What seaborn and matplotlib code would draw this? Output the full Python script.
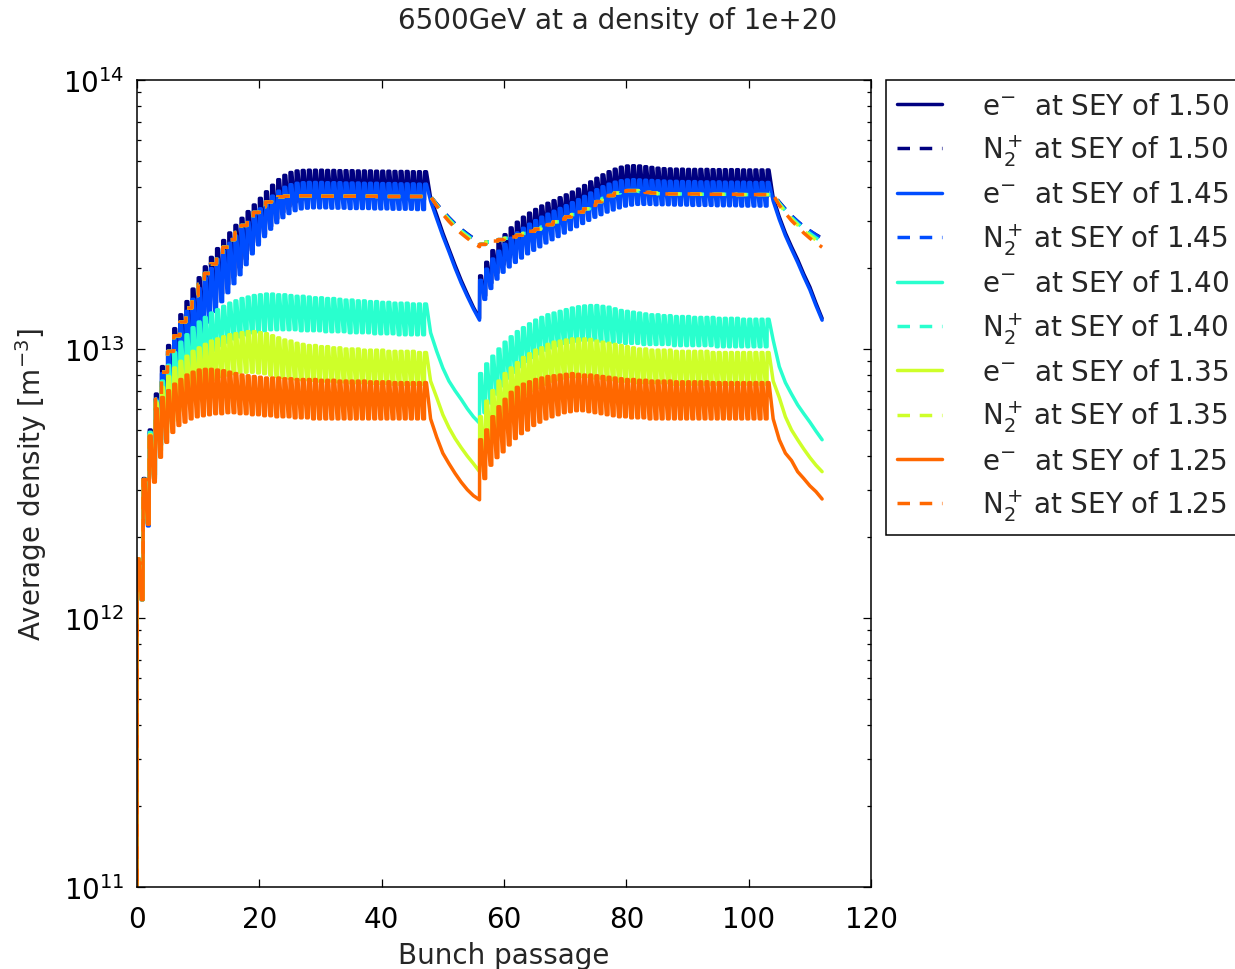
import numpy as np
import matplotlib
matplotlib.use("Agg")
import matplotlib.pyplot as plt
import seaborn as sns

# Electron-cloud build-up over two 48-bunch trains (bunches 0-47 and 56-103),
# each followed by an 8-slot gap.  Densities are in units of 1e12 m^-3.
UNIT = 1e12
TRAIN_STARTS = [0, 56]

sey_labels = ["1.50", "1.45", "1.40", "1.35", "1.25"]

# ---- electrons: density right after each bunch passage (peak) and just before it (trough)
e150_peak_t1 = [1.66, 3.3, 5.0, 6.8, 8.6, 10.3, 11.9, 13.4, 15.0, 16.7, 18.4, 20.2, 21.9, 23.6, 25.3, 27.0,
                28.8, 30.6, 32.4, 34.3, 36.3, 38.4, 40.6, 42.6, 44.2, 45.3, 45.9, 46.1, 46.2, 46.2, 46.2, 46.1,
                46.1, 46.0, 46.0, 46.0, 45.9, 45.9, 45.9, 45.8, 45.8, 45.8, 45.7, 45.7, 45.7, 45.6, 45.6, 45.6]
e150_trough_t1 = [0.01, 1.17, 2.25, 3.4, 4.6, 5.8, 7.0, 8.1, 9.2, 10.3, 11.4, 12.5, 13.7, 14.9, 16.1, 17.4,
                  18.7, 20.1, 21.6, 23.2, 24.9, 26.7, 28.6, 30.5, 32.3, 33.9, 35.1, 35.9, 36.3, 36.4, 36.4, 36.4,
                  36.3, 36.3, 36.3, 36.2, 36.2, 36.2, 36.2, 36.1, 36.1, 36.1, 36.0, 36.0, 36.0, 36.0, 35.9, 35.9]
e150_gap1 = [36.5, 31.5, 27.0, 23.5, 20.5, 18.0, 16.0, 14.3, 13.0]
e150_peak_t2 = [18.7, 21.0, 23.2, 25.0, 26.6, 28.2, 29.6, 30.9, 32.0, 33.0, 34.0, 34.8, 35.6, 36.5, 37.4, 38.3,
                39.3, 40.5, 41.8, 43.1, 44.4, 45.6, 46.6, 47.4, 47.9, 48.0, 47.9, 47.6, 47.3, 47.0, 46.8, 46.7,
                46.6, 46.6, 46.5, 46.5, 46.5, 46.5, 46.4, 46.4, 46.4, 46.4, 46.4, 46.3, 46.3, 46.3, 46.3, 46.3]
e150_trough_t2 = [13.0, 15.8, 17.6, 19.2, 20.6, 21.9, 23.0, 24.0, 25.0, 25.9, 26.8, 27.7, 28.6, 29.5, 30.4, 31.3,
                  32.2, 33.2, 34.2, 35.2, 36.1, 36.9, 37.5, 37.9, 38.1, 38.1, 38.0, 37.8, 37.6, 37.4, 37.3, 37.2,
                  37.1, 37.1, 37.0, 37.0, 37.0, 36.9, 36.9, 36.9, 36.9, 36.8, 36.8, 36.8, 36.8, 36.8, 36.8, 36.8]
e150_gap2 = [36.5, 31.0, 27.0, 24.0, 21.5, 19.0, 17.0, 14.8, 13.0]

e145_peak_t1 = [1.66, 3.25, 4.9, 6.5, 8.1, 9.6, 11.0, 12.4, 13.8, 15.3, 16.8, 18.4, 19.9, 21.5, 23.1, 24.7,
                26.3, 27.9, 29.6, 31.4, 33.2, 35.1, 37.0, 38.6, 39.9, 40.8, 41.3, 41.5, 41.6, 41.6, 41.6, 41.5,
                41.5, 41.5, 41.4, 41.4, 41.4, 41.3, 41.3, 41.3, 41.2, 41.2, 41.2, 41.1, 41.1, 41.1, 41.0, 41.0]
e145_trough_t1 = [0.01, 1.17, 2.2, 3.3, 4.4, 5.4, 6.4, 7.4, 8.4, 9.4, 10.4, 11.5, 12.6, 13.8, 15.0, 16.2,
                  17.5, 18.9, 20.6, 22.6, 24.4, 26.2, 27.9, 29.5, 30.8, 31.9, 32.7, 33.2, 33.4, 33.5, 33.5, 33.5,
                  33.4, 33.4, 33.4, 33.3, 33.3, 33.3, 33.3, 33.2, 33.2, 33.2, 33.1, 33.1, 33.1, 33.1, 33.0, 33.0]
e145_gap1 = [35.5, 30.5, 26.3, 23.0, 20.0, 17.6, 15.7, 14.1, 12.8]
e145_peak_t2 = [18.0, 19.8, 21.6, 23.1, 24.5, 25.8, 27.0, 28.1, 29.1, 30.0, 30.9, 31.7, 32.5, 33.3, 34.1, 35.0,
                35.9, 36.9, 38.0, 39.1, 40.1, 41.0, 41.7, 42.2, 42.5, 42.6, 42.5, 42.4, 42.3, 42.2, 42.1, 42.0,
                42.0, 41.9, 41.9, 41.9, 41.8, 41.8, 41.8, 41.8, 41.7, 41.7, 41.7, 41.7, 41.6, 41.6, 41.6, 41.6]
e145_trough_t2 = [12.8, 15.3, 16.8, 18.2, 19.3, 20.2, 21.0, 21.8, 22.6, 23.3, 24.0, 24.8, 25.5, 26.2, 27.0, 27.8,
                  28.5, 29.3, 30.1, 30.9, 31.6, 32.3, 32.9, 33.5, 34.0, 34.3, 34.5, 34.5, 34.5, 34.4, 34.4, 34.4,
                  34.3, 34.3, 34.3, 34.2, 34.2, 34.2, 34.2, 34.1, 34.1, 34.1, 34.1, 34.0, 34.0, 34.0, 34.0, 34.0]
e145_gap2 = [35.5, 30.3, 26.4, 23.5, 21.0, 18.6, 16.6, 14.5, 12.8]

e140_peak_t1 = [1.66, 3.27, 4.9, 6.4, 7.6, 8.7, 9.7, 10.6, 11.3, 12.0, 12.6, 13.1, 13.6, 14.0, 14.4, 14.8,
                15.1, 15.4, 15.6, 15.8, 15.9, 16.0, 16.0, 15.9, 15.9, 15.8, 15.7, 15.7, 15.6, 15.5, 15.5, 15.4,
                15.4, 15.3, 15.2, 15.2, 15.1, 15.1, 15.0, 15.0, 14.9, 14.9, 14.8, 14.8, 14.8, 14.7, 14.7, 14.7]
e140_trough_t1 = [0.01, 1.17, 2.25, 3.35, 4.4, 5.3, 6.1, 6.8, 7.5, 8.1, 8.6, 9.1, 9.5, 9.9, 10.3, 10.6,
                  10.9, 11.1, 11.3, 11.5, 11.6, 11.7, 11.8, 11.8, 11.8, 11.8, 11.8, 11.7, 11.7, 11.7, 11.7, 11.6,
                  11.6, 11.6, 11.6, 11.5, 11.5, 11.5, 11.5, 11.4, 11.4, 11.4, 11.4, 11.3, 11.3, 11.3, 11.3, 11.3]
e140_gap1 = [11.5, 9.8, 8.5, 7.6, 7.0, 6.5, 6.0, 5.6, 5.3]
e140_peak_t2 = [8.1, 8.8, 9.4, 10.0, 10.6, 11.1, 11.6, 12.0, 12.4, 12.8, 13.1, 13.4, 13.6, 13.8, 14.0, 14.2,
                14.35, 14.45, 14.5, 14.5, 14.4, 14.3, 14.1, 13.9, 13.8, 13.7, 13.6, 13.5, 13.4, 13.4, 13.3, 13.3,
                13.2, 13.2, 13.2, 13.1, 13.1, 13.1, 13.1, 13.0, 13.0, 13.0, 13.0, 12.9, 12.9, 12.9, 12.9, 12.9]
e140_trough_t2 = [5.3, 5.8, 6.3, 6.8, 7.3, 7.8, 8.2, 8.6, 9.0, 9.3, 9.6, 9.9, 10.1, 10.3, 10.5, 10.6,
                  10.7, 10.8, 10.8, 10.8, 10.7, 10.7, 10.6, 10.6, 10.5, 10.5, 10.5, 10.4, 10.4, 10.4, 10.4, 10.4,
                  10.3, 10.3, 10.3, 10.3, 10.3, 10.3, 10.3, 10.2, 10.2, 10.2, 10.2, 10.2, 10.2, 10.2, 10.2, 10.2]
e140_gap2 = [10.8, 8.6, 7.5, 6.8, 6.2, 5.75, 5.35, 4.95, 4.6]

e135_peak_t1 = [1.66, 3.27, 4.8, 6.3, 7.2, 7.9, 8.5, 9.0, 9.4, 9.8, 10.1, 10.4, 10.7, 10.9, 11.1, 11.3,
                11.4, 11.5, 11.6, 11.6, 11.5, 11.4, 11.2, 11.0, 10.8, 10.7, 10.5, 10.4, 10.3, 10.3, 10.2, 10.2,
                10.1, 10.1, 10.0, 10.0, 10.0, 9.9, 9.9, 9.9, 9.9, 9.8, 9.8, 9.8, 9.8, 9.8, 9.7, 9.7]
e135_trough_t1 = [0.01, 1.17, 2.25, 3.3, 4.2, 4.9, 5.4, 5.9, 6.3, 6.7, 7.0, 7.3, 7.5, 7.7, 7.9, 8.0,
                  8.1, 8.2, 8.2, 8.2, 8.15, 8.1, 8.0, 7.9, 7.85, 7.8, 7.75, 7.7, 7.7, 7.65, 7.6, 7.6,
                  7.6, 7.55, 7.55, 7.5, 7.5, 7.5, 7.5, 7.45, 7.45, 7.45, 7.4, 7.4, 7.4, 7.4, 7.4, 7.4]
e135_gap1 = [7.6, 6.6, 5.7, 5.1, 4.65, 4.3, 4.0, 3.75, 3.5]
e135_peak_t2 = [5.6, 6.4, 7.0, 7.6, 8.1, 8.5, 8.9, 9.3, 9.6, 9.9, 10.1, 10.4, 10.6, 10.7, 10.8, 10.9,
                10.9, 10.9, 10.85, 10.7, 10.6, 10.5, 10.4, 10.3, 10.2, 10.1, 10.0, 10.0, 9.9, 9.9, 9.9, 9.9,
                9.8, 9.8, 9.8, 9.8, 9.8, 9.8, 9.7, 9.7, 9.7, 9.7, 9.7, 9.7, 9.7, 9.7, 9.7, 9.7]
e135_trough_t2 = [3.5, 4.1, 4.6, 5.1, 5.5, 5.9, 6.2, 6.5, 6.8, 7.0, 7.2, 7.4, 7.6, 7.7, 7.8, 7.9,
                  7.9, 7.9, 7.9, 7.8, 7.8, 7.7, 7.7, 7.6, 7.6, 7.6, 7.5, 7.5, 7.5, 7.5, 7.5, 7.5,
                  7.4, 7.4, 7.4, 7.4, 7.4, 7.4, 7.4, 7.4, 7.4, 7.4, 7.4, 7.4, 7.4, 7.4, 7.4, 7.4]
e135_gap2 = [7.6, 6.6, 5.6, 5.0, 4.6, 4.25, 3.95, 3.7, 3.5]

e125_peak_t1 = [1.66, 3.27, 4.75, 6.0, 6.6, 7.0, 7.4, 7.7, 8.0, 8.2, 8.35, 8.4, 8.4, 8.35, 8.3, 8.2,
                8.1, 8.0, 7.95, 7.9, 7.85, 7.8, 7.8, 7.8, 7.75, 7.75, 7.7, 7.7, 7.7, 7.7, 7.65, 7.65,
                7.65, 7.6, 7.6, 7.6, 7.6, 7.6, 7.55, 7.55, 7.55, 7.55, 7.5, 7.5, 7.5, 7.5, 7.5, 7.5]
e125_trough_t1 = [0.01, 1.17, 2.23, 3.2, 3.96, 4.5, 4.9, 5.2, 5.35, 5.5, 5.6, 5.65, 5.7, 5.75, 5.75, 5.8,
                  5.8, 5.75, 5.75, 5.7, 5.7, 5.65, 5.65, 5.6, 5.6, 5.6, 5.55, 5.55, 5.55, 5.5, 5.5, 5.5,
                  5.5, 5.5, 5.5, 5.5, 5.5, 5.5, 5.5, 5.5, 5.5, 5.5, 5.5, 5.5, 5.5, 5.5, 5.5, 5.5]
e125_gap1 = [5.5, 4.7, 4.1, 3.75, 3.45, 3.2, 3.0, 2.85, 2.75]
e125_peak_t2 = [4.6, 5.0, 5.6, 6.1, 6.5, 6.9, 7.2, 7.4, 7.55, 7.7, 7.8, 7.9, 7.95, 8.0, 8.05, 8.1,
                8.05, 8.0, 8.0, 7.95, 7.9, 7.85, 7.8, 7.75, 7.7, 7.7, 7.65, 7.65, 7.6, 7.6, 7.6, 7.6,
                7.55, 7.55, 7.55, 7.55, 7.55, 7.55, 7.5, 7.5, 7.5, 7.5, 7.5, 7.5, 7.5, 7.5, 7.5, 7.5]
e125_trough_t2 = [2.75, 3.3, 3.7, 3.95, 4.15, 4.4, 4.65, 4.85, 5.0, 5.2, 5.35, 5.5, 5.6, 5.7, 5.8, 5.85,
                  5.9, 5.9, 5.85, 5.8, 5.75, 5.7, 5.65, 5.6, 5.6, 5.55, 5.55, 5.55, 5.5, 5.5, 5.5, 5.5,
                  5.5, 5.5, 5.5, 5.5, 5.5, 5.5, 5.5, 5.5, 5.5, 5.5, 5.5, 5.5, 5.5, 5.5, 5.5, 5.5]
e125_gap2 = [5.5, 4.6, 4.1, 3.85, 3.5, 3.3, 3.1, 2.95, 2.77]

# ---- N2+ ions: level held after each bunch passage (same for all SEY inside the trains)
ion_t1 = [1.6, 3.27, 4.9, 6.5, 8.2, 9.8, 11.2, 12.6, 14.2, 15.8, 17.4, 19.1, 20.7, 22.3, 23.9, 25.5,
          27.1, 28.8, 30.5, 32.2, 33.8, 35.2, 36.2, 36.8, 37.0, 37.1, 37.1, 37.1, 37.1, 37.1, 37.0, 37.0,
          37.0, 37.0, 37.0, 37.0, 37.0, 37.0, 37.0, 36.9, 36.9, 36.9, 36.9, 36.9, 36.9, 36.9, 36.9, 36.9]
ion_t2 = [24.5, 25.0, 25.2, 25.5, 25.8, 26.1, 26.5, 26.9, 27.4, 27.9, 28.4, 29.0, 29.7, 30.4, 31.0, 31.6,
          32.3, 33.2, 34.2, 35.3, 36.3, 37.2, 38.0, 38.6, 38.8, 38.8, 38.5, 38.2, 38.0, 37.8, 37.7, 37.7,
          37.7, 37.7, 37.7, 37.7, 37.6, 37.6, 37.6, 37.6, 37.6, 37.6, 37.5, 37.5, 37.5, 37.5, 37.5, 37.5]
ion150_gap1 = [36.9, 34.6, 32.6, 30.8, 29.2, 27.9, 26.8, 25.8, 25.0]
ion145_gap1 = [36.9, 34.5, 32.5, 30.7, 29.1, 27.8, 26.7, 25.7, 24.9]
ion140_gap1 = [36.9, 34.3, 32.2, 30.4, 28.8, 27.5, 26.4, 25.4, 24.6]
ion135_gap1 = [36.9, 34.2, 32.0, 30.1, 28.5, 27.2, 26.1, 25.1, 24.3]
ion125_gap1 = [36.9, 34.0, 31.7, 29.8, 28.2, 26.9, 25.8, 24.8, 24.0]
ion150_gap2 = [37.5, 35.2, 33.1, 31.3, 29.8, 28.5, 27.5, 26.6, 25.8]
ion145_gap2 = [37.5, 35.0, 33.0, 31.2, 29.8, 28.5, 27.5, 26.5, 25.6]
ion140_gap2 = [37.5, 34.8, 32.6, 30.8, 29.3, 28.0, 26.9, 25.9, 25.0]
ion135_gap2 = [37.5, 34.5, 32.3, 30.4, 28.9, 27.5, 26.4, 25.4, 24.5]
ion125_gap2 = [37.5, 34.2, 32.0, 30.0, 28.5, 27.0, 25.8, 24.8, 23.9]

electrons = {
    "1.50": (e150_peak_t1, e150_trough_t1, e150_gap1, e150_peak_t2, e150_trough_t2, e150_gap2),
    "1.45": (e145_peak_t1, e145_trough_t1, e145_gap1, e145_peak_t2, e145_trough_t2, e145_gap2),
    "1.40": (e140_peak_t1, e140_trough_t1, e140_gap1, e140_peak_t2, e140_trough_t2, e140_gap2),
    "1.35": (e135_peak_t1, e135_trough_t1, e135_gap1, e135_peak_t2, e135_trough_t2, e135_gap2),
    "1.25": (e125_peak_t1, e125_trough_t1, e125_gap1, e125_peak_t2, e125_trough_t2, e125_gap2),
}
ions = {
    "1.50": (ion_t1, ion150_gap1, ion_t2, ion150_gap2),
    "1.45": (ion_t1, ion145_gap1, ion_t2, ion145_gap2),
    "1.40": (ion_t1, ion140_gap1, ion_t2, ion140_gap2),
    "1.35": (ion_t1, ion135_gap1, ion_t2, ion135_gap2),
    "1.25": (ion_t1, ion125_gap1, ion_t2, ion125_gap2),
}


def electron_trace(peak1, trough1, gap1, peak2, trough2, gap2):
    """Jump to the peak at each bunch passage, fall to the trough level before the
    next bunch, and decay smoothly through the gap after each train."""
    xs, ys = [], []
    for start, peaks, troughs, gap in ((TRAIN_STARTS[0], peak1, trough1, gap1),
                                       (TRAIN_STARTS[1], peak2, trough2, gap2)):
        assert len(peaks) == len(troughs) == 48 and len(gap) == 9
        n = len(peaks)
        xs.append(start)
        ys.append(troughs[0])
        for i in range(n):
            k = start + i
            xs += [k + 0.02, k + 0.32]
            ys += [peaks[i], peaks[i]]
            if i + 1 < n:
                xs += [k + 0.72, k + 1.0]
                ys += [troughs[i + 1], troughs[i + 1]]
        xs += list(start + n + np.arange(len(gap)))
        ys += list(gap)
    return np.array(xs, float), np.array(ys, float) * UNIT


def ion_trace(train1, gap1, train2, gap2):
    """Ion level steps up at each bunch passage and decays smoothly in the gaps."""
    xs, ys = [], []
    prev = 0.01
    for start, train, gap in ((TRAIN_STARTS[0], train1, gap1), (TRAIN_STARTS[1], train2, gap2)):
        assert len(train) == 48 and len(gap) == 9
        for i, v in enumerate(train):
            k = start + i
            xs += [k, k + 0.02]
            ys += [prev, v]
            prev = v
        xs += list(start + len(train) + np.arange(len(gap)))
        ys += list(gap)
        prev = gap[-1]
    return np.array(xs, float), np.array(ys, float) * UNIT


sns.set_style("ticks")
plt.rcParams.update({
    "font.family": ["DejaVu Sans"],
    "font.size": 20,
    "xtick.direction": "in",
    "ytick.direction": "in",
    "xtick.top": True,
    "ytick.right": True,
    "xtick.major.size": 6,
    "ytick.major.size": 6,
    "ytick.minor.size": 3,
    "xtick.major.width": 0.9,
    "ytick.major.width": 0.9,
    "ytick.minor.width": 0.9,
    "xtick.major.pad": 13,
    "ytick.major.pad": 9,
    "axes.linewidth": 1.1,
    "axes.edgecolor": "black",
    "xtick.color": "black",
    "ytick.color": "black",
    "mathtext.default": "regular",
})

fig = plt.figure(figsize=(12.35, 9.70), dpi=100)
ax = fig.add_axes([0.1109, 0.0845, 0.5944, 0.8320])

colors = plt.get_cmap("jet")(np.arange(5) / 5.0)

for color, sey in zip(colors, sey_labels):
    ex, ey = electron_trace(*electrons[sey])
    sns.lineplot(x=ex, y=ey, sort=False, estimator=None, color=color, lw=2.5, ax=ax,
                 label=f"e$^{{-}}$  at SEY of {sey}")
    ix, iy = ion_trace(*ions[sey])
    sns.lineplot(x=ix, y=iy, sort=False, estimator=None, color=color, lw=2.5, ax=ax,
                 linestyle=(0, (3.6, 2.8)), label=f"N$_2^+$\u2009at SEY of {sey}")

ax.set_yscale("log")
ax.set_xlim(0, 120)
ax.set_ylim(1e11, 1e14)
ax.set_xticks([0, 20, 40, 60, 80, 100, 120])
ax.tick_params(axis="both", labelsize=20)
ax.set_xlabel("Bunch passage", fontsize=20, labelpad=6)
ax.set_ylabel("Average density [m$^{-3}$]", fontsize=20, labelpad=10)
fig.suptitle("6500GeV at a density of 1e+20", fontsize=20, y=0.978, va="center")

leg = ax.legend(loc="upper left", bbox_to_anchor=(1.02, 1.0), borderaxespad=0.0,
                fontsize=20, frameon=True, fancybox=False, edgecolor="black",
                handlelength=1.6, handletextpad=1.45, labelspacing=0.45, borderpad=0.42)
leg.get_frame().set_linewidth(1.1)
leg.get_frame().set_alpha(1.0)

fig.savefig("out.png", dpi=100)
